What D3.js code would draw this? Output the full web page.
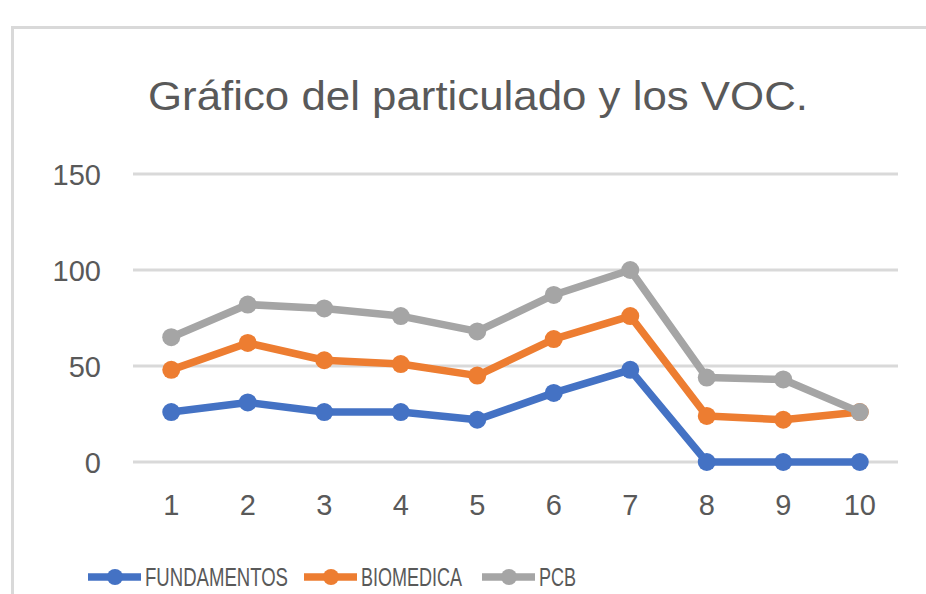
<!DOCTYPE html>
<html>
<head>
<meta charset="utf-8">
<script src="https://cdn.jsdelivr.net/npm/d3@7"></script>
<style>
  body { margin: 0; background: #fff; overflow: hidden; }
  svg { display: block; }
  text { font-family: "Liberation Sans", Arial, sans-serif; fill: #595959; }
</style>
</head>
<body>
<div id="chart"></div>
<script>
// data
const categories = ["1", "2", "3", "4", "5", "6", "7", "8", "9", "10"];
const seriesNames = ["FUNDAMENTOS", "BIOMEDICA", "PCB"];
const fundamentos = [26, 31, 26, 26, 22, 36, 48, 0, 0, 0];
const biomedica = [48, 62, 53, 51, 45, 64, 76, 24, 22, 26];
const pcb = [65, 82, 80, 76, 68, 87, 100, 44, 43, 26];
const yTicks = [0, 50, 100, 150];
const colors = ["#4472C4", "#ED7D31", "#A5A5A5"];

const width = 926;
const height = 594;
const plot = { left: 133, right: 898, top: 174, bottom: 462 };

const svg = d3.select("#chart")
  .append("svg")
  .attr("width", width)
  .attr("height", height);

// chart area frame (goes past the right and bottom edges)
svg.append("rect")
  .attr("x", 12.5)
  .attr("y", 27.5)
  .attr("width", 1000)
  .attr("height", 700)
  .attr("fill", "#fff")
  .attr("stroke", "#d9d9d9")
  .attr("stroke-width", 3);

// title
svg.append("text")
  .attr("x", 478)
  .attr("y", 110)
  .attr("text-anchor", "middle")
  .attr("font-size", 41)
  .attr("textLength", 660)
  .attr("lengthAdjust", "spacingAndGlyphs")
  .text("Gráfico del particulado y los VOC.");

const x = d3.scaleBand()
  .domain(categories)
  .range([plot.left, plot.right]);

const y = d3.scaleLinear()
  .domain([0, 150])
  .range([plot.bottom, plot.top]);

// gridlines
svg.append("g")
  .selectAll("line")
  .data(yTicks)
  .enter()
  .append("line")
  .attr("x1", plot.left)
  .attr("x2", plot.right)
  .attr("y1", (d) => y(d))
  .attr("y2", (d) => y(d))
  .attr("stroke", "#d9d9d9")
  .attr("stroke-width", 3);

// y axis labels
const yAxis = svg.append("g")
  .attr("transform", `translate(${plot.left - 32},0)`)
  .call(d3.axisLeft(y).tickValues(yTicks).tickSize(0).tickPadding(0));
yAxis.select(".domain").remove();
yAxis.selectAll("text")
  .attr("font-size", 29)
  .attr("font-family", null)
  .attr("dy", "0.35em")
  .style("fill", "#595959");

// x axis labels
const xAxis = svg.append("g")
  .attr("transform", `translate(0,${plot.bottom + 32})`)
  .call(d3.axisBottom(x).tickSize(0).tickPadding(0));
xAxis.select(".domain").remove();
xAxis.selectAll("text")
  .attr("font-size", 29)
  .attr("font-family", null)
  .attr("dy", "0.71em")
  .style("fill", "#595959");

// series
const allSeries = [fundamentos, biomedica, pcb];
const line = d3.line()
  .x((d, i) => x(categories[i]) + x.bandwidth() / 2)
  .y((d) => y(d));

allSeries.forEach((values, s) => {
  const g = svg.append("g");
  g.append("path")
    .datum(values)
    .attr("d", line)
    .attr("fill", "none")
    .attr("stroke", colors[s])
    .attr("stroke-width", 7.5)
    .attr("stroke-linejoin", "round");
  g.selectAll("circle")
    .data(values)
    .enter()
    .append("circle")
    .attr("cx", (d, i) => x(categories[i]) + x.bandwidth() / 2)
    .attr("cy", (d) => y(d))
    .attr("r", 9)
    .attr("fill", colors[s]);
});

// legend at the bottom edge
const legendX = [88, 304, 482];
const legendW = [143, 101, 37];
const legend = svg.append("g")
  .selectAll("g")
  .data(seriesNames)
  .enter()
  .append("g")
  .attr("transform", (d, i) => `translate(${legendX[i]},577)`);

legend.append("line")
  .attr("x1", 0)
  .attr("x2", 53)
  .attr("stroke", (d, i) => colors[i])
  .attr("stroke-width", 7.5);

legend.append("circle")
  .attr("cx", 27)
  .attr("r", 8)
  .attr("fill", (d, i) => colors[i]);

legend.append("text")
  .attr("x", 57)
  .attr("y", 9)
  .attr("font-size", 26)
  .attr("textLength", (d, i) => legendW[i])
  .attr("lengthAdjust", "spacingAndGlyphs")
  .text((d) => d);
</script>
</body>
</html>
